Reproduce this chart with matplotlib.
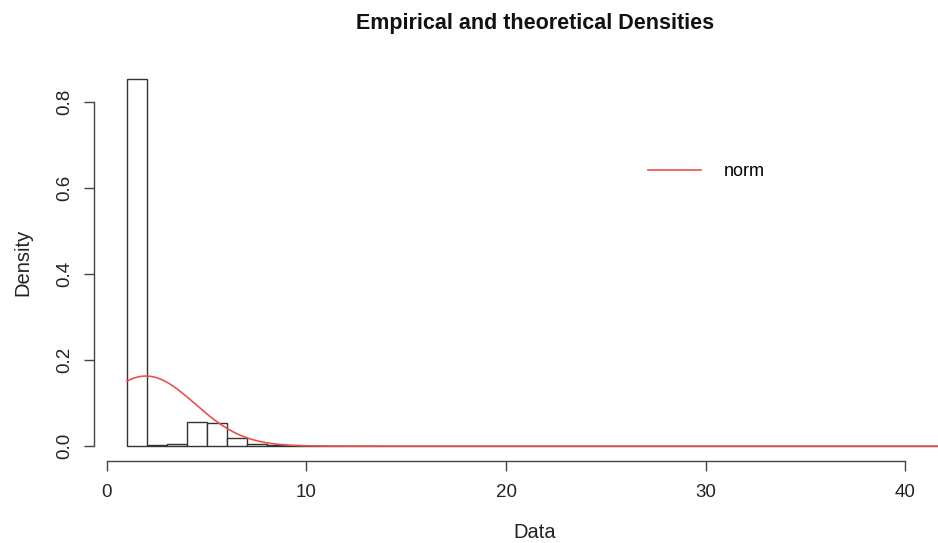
import numpy as np
import matplotlib
matplotlib.use("Agg")
import matplotlib.pyplot as plt

plt.rcParams['font.family'] = ['Liberation Sans', 'DejaVu Sans']

# Histogram (density) with unit-width bins starting at 1
bin_edges = list(range(1, 43))
densities = [0.853, 0.002, 0.004, 0.057, 0.053, 0.018, 0.004, 0.002, 0.001, 0.0005,
             0.0005, 0.0003, 0.0003, 0.0002, 0.0002, 0.0002, 0.0002, 0.0002, 0.0003, 0.0002,
             0.0001, 0.0001, 0.0001, 0.0001, 0.0002, 0.0008, 0.0008, 0.0001, 0.0001, 0.0001,
             0.0001, 0.0001, 0.0001, 0.0008, 0.0001, 0.0001, 0.0001, 0.0001, 0.0001, 0.0001,
             0.0001]

# Fitted normal distribution parameters
norm_mean = 1.95
norm_sd = 2.45

x_ticks = [0, 10, 20, 30, 40]
y_ticks = [0.0, 0.2, 0.4, 0.6, 0.8]
y_tick_labels = ["0.0", "0.2", "0.4", "0.6", "0.8"]

W, H = 938, 543
fig = plt.figure(figsize=(W / 100, H / 100), dpi=100)

xlim = (-0.64, 41.65)
ylim = (-0.034, 0.887)
left_px, right_px = 94.2, 938
top_px, bottom_px = 64.6, 460.7
ax = fig.add_axes([left_px / W, 1 - bottom_px / H, (right_px - left_px) / W, (bottom_px - top_px) / H])
ax.set_xlim(*xlim)
ax.set_ylim(*ylim)

lefts = bin_edges[:-1]
widths = np.diff(bin_edges)
ax.bar(lefts, densities, width=widths, align='edge', facecolor='white',
       edgecolor='#333333', linewidth=1.0)

xs = np.linspace(bin_edges[0], xlim[1], 800)
pdf = np.exp(-0.5 * ((xs - norm_mean) / norm_sd) ** 2) / (norm_sd * np.sqrt(2 * np.pi))
ax.plot(xs, pdf, color='#ee5050', linewidth=1.2, label='norm')

for s in ['top', 'right']:
    ax.spines[s].set_visible(False)
ax.spines['left'].set_bounds(0, 0.8)
ax.spines['bottom'].set_bounds(0, 40)
for s in ['left', 'bottom']:
    ax.spines[s].set_color('#444444')
    ax.spines[s].set_linewidth(1.0)

ax.set_xticks(x_ticks)
ax.set_yticks(y_ticks)
ax.set_yticklabels(y_tick_labels, rotation=90, va='center')
ax.tick_params(axis='both', direction='out', length=7, width=1.0, color='#444444',
               labelsize=13.5, labelcolor='#222222')
ax.tick_params(axis='x', pad=10)
ax.tick_params(axis='y', pad=8)

fig.text(535 / W, 1 - 533 / H, 'Data', ha='center', va='center',
         fontsize=14.5, color='#222222')
fig.text(23 / W, 1 - 262 / H, 'Density', ha='center', va='center', rotation=90,
         fontsize=14.5, color='#222222')
fig.text(535 / W, 1 - 23 / H, 'Empirical and theoretical Densities', ha='center', va='center',
         fontsize=15.5, fontweight='bold', color='#111111')

leg = ax.legend(loc='upper left', bbox_to_anchor=((632 - left_px) / (right_px - left_px),
                                                   1 - (147 - top_px) / (bottom_px - top_px)),
                frameon=False, fontsize=13, handlelength=2.9, handletextpad=1.3)

fig.savefig('out.png', dpi=100, facecolor='white')
